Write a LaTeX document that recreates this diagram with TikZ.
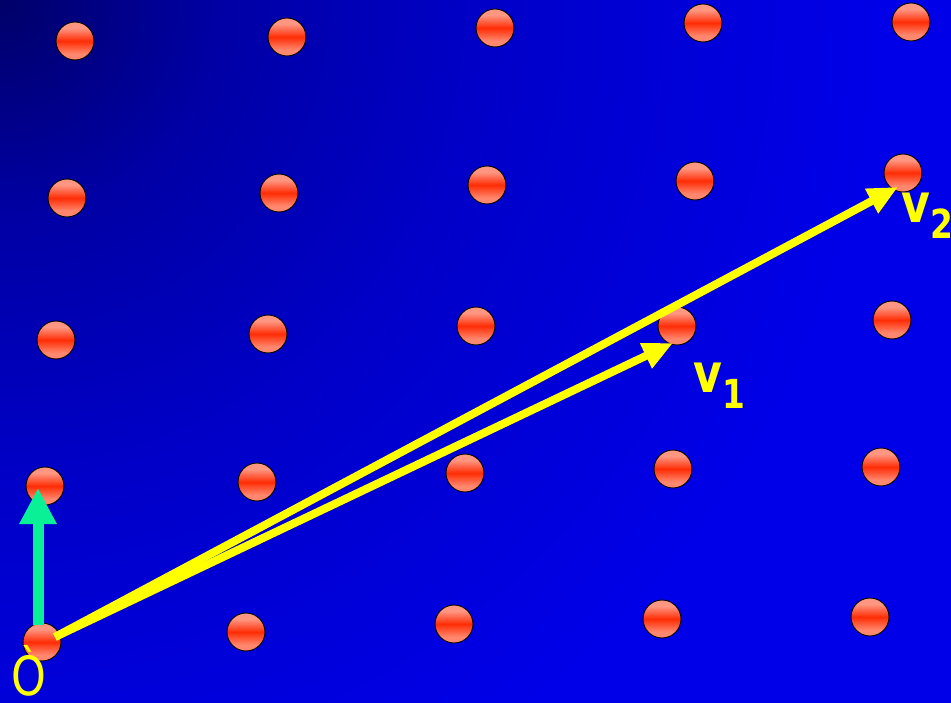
\documentclass[tikz,border=0pt]{standalone}
\usepackage{fontspec}
\setmainfont{DejaVu Sans}
\usetikzlibrary{arrows.meta}
\definecolor{bgdark}{RGB}{0,0,105}
\definecolor{bgmidA}{RGB}{0,0,165}
\definecolor{bgmid}{RGB}{0,0,200}
\definecolor{bgbright}{RGB}{0,0,232}
\definecolor{dotlight}{RGB}{255,150,130}
\definecolor{dotlightb}{RGB}{255,135,110}
\definecolor{dotred}{RGB}{255,45,5}
\definecolor{vecyellow}{RGB}{255,255,0}
\definecolor{basegreen}{RGB}{10,240,150}
\pgfdeclareradialshading{bgrad}{\pgfpointorigin}{color(0bp)=(bgdark); color(5bp)=(bgmidA); color(11bp)=(bgmid); color(20bp)=(bgbright); color(50bp)=(bgbright)}
\pgfdeclareverticalshading{dotshade}{100bp}{color(0bp)=(dotlightb); color(25bp)=(dotlightb); color(33bp)=(dotlightb); color(50bp)=(dotred); color(67bp)=(dotlight); color(75bp)=(dotlight); color(100bp)=(dotlight)}
\tikzset{
  latticept/.style={circle, draw=black, line width=0.9pt, minimum size=38pt, inner sep=0pt,
    shading=dotshade},
  vecarrow/.style={draw=vecyellow, line width=8pt, -{Triangle[length=30pt,width=26pt]}},
  basearrow/.style={draw=basegreen, line width=11pt, -{Triangle[length=36pt,width=35pt]}},
  lbl/.style={text=vecyellow, font=\fontsize{54}{54}\selectfont, inner sep=0pt, xscale=0.82},
}
\begin{document}
\begin{tikzpicture}[x=1pt, y=-1pt]
\useasboundingbox (0,0) rectangle (951,703);
\begin{scope}
  \clip (0,0) rectangle (951,703);
  \fill[bgbright] (0,0) rectangle (951,703);
  \shade[shading=bgrad] (0,0) circle (1100pt);
\end{scope}
% lattice points
\node[latticept] (d11) at (75,41) {};
\node[latticept] (d12) at (287,37) {};
\node[latticept] (d13) at (495,28) {};
\node[latticept] (d14) at (703,23) {};
\node[latticept] (d15) at (911,22) {};
\node[latticept] (d21) at (67,198) {};
\node[latticept] (d22) at (279,193) {};
\node[latticept] (d23) at (487,185) {};
\node[latticept] (d24) at (695,181) {};
\node[latticept] (d25) at (903,173) {};
\node[latticept] (d31) at (56,340) {};
\node[latticept] (d32) at (268,334) {};
\node[latticept] (d33) at (476,326) {};
\node[latticept] (d34) at (677,326) {};
\node[latticept] (d35) at (892,320) {};
\node[latticept] (d41) at (45,486) {};
\node[latticept] (d42) at (257,482) {};
\node[latticept] (d43) at (465,473) {};
\node[latticept] (d44) at (673,469) {};
\node[latticept] (d45) at (881,467) {};
\node[latticept] (d51) at (42,642) {};
\node[latticept] (d52) at (246,632) {};
\node[latticept] (d53) at (454,624) {};
\node[latticept] (d54) at (662,619) {};
\node[latticept] (d55) at (870,617) {};
% arrow end points
\coordinate (g0) at (38,625);
\coordinate (g1) at (38,488);
\coordinate (o) at (55,637);
\coordinate (t1) at (673,343);
\coordinate (t2) at (898,187);
% basis arrow
\draw[basearrow] (g0) -- (g1);
% vectors
\draw[vecarrow] (o) -- (t1);
\draw[vecarrow] (o) -- (t2);
% labels
\node[lbl, anchor=base west] (lo) at (11,695) {Ò};
\node[lbl, anchor=base west, font=\fontsize{54}{54}\selectfont\bfseries] (lv1) at (693,392) {v\raisebox{-16pt}{\fontsize{40}{40}\selectfont 1}};
\node[lbl, anchor=base west, font=\fontsize{54}{54}\selectfont\bfseries] (lv2) at (901,223) {v\raisebox{-16pt}{\fontsize{40}{40}\selectfont 2}};
\end{tikzpicture}
\end{document}
